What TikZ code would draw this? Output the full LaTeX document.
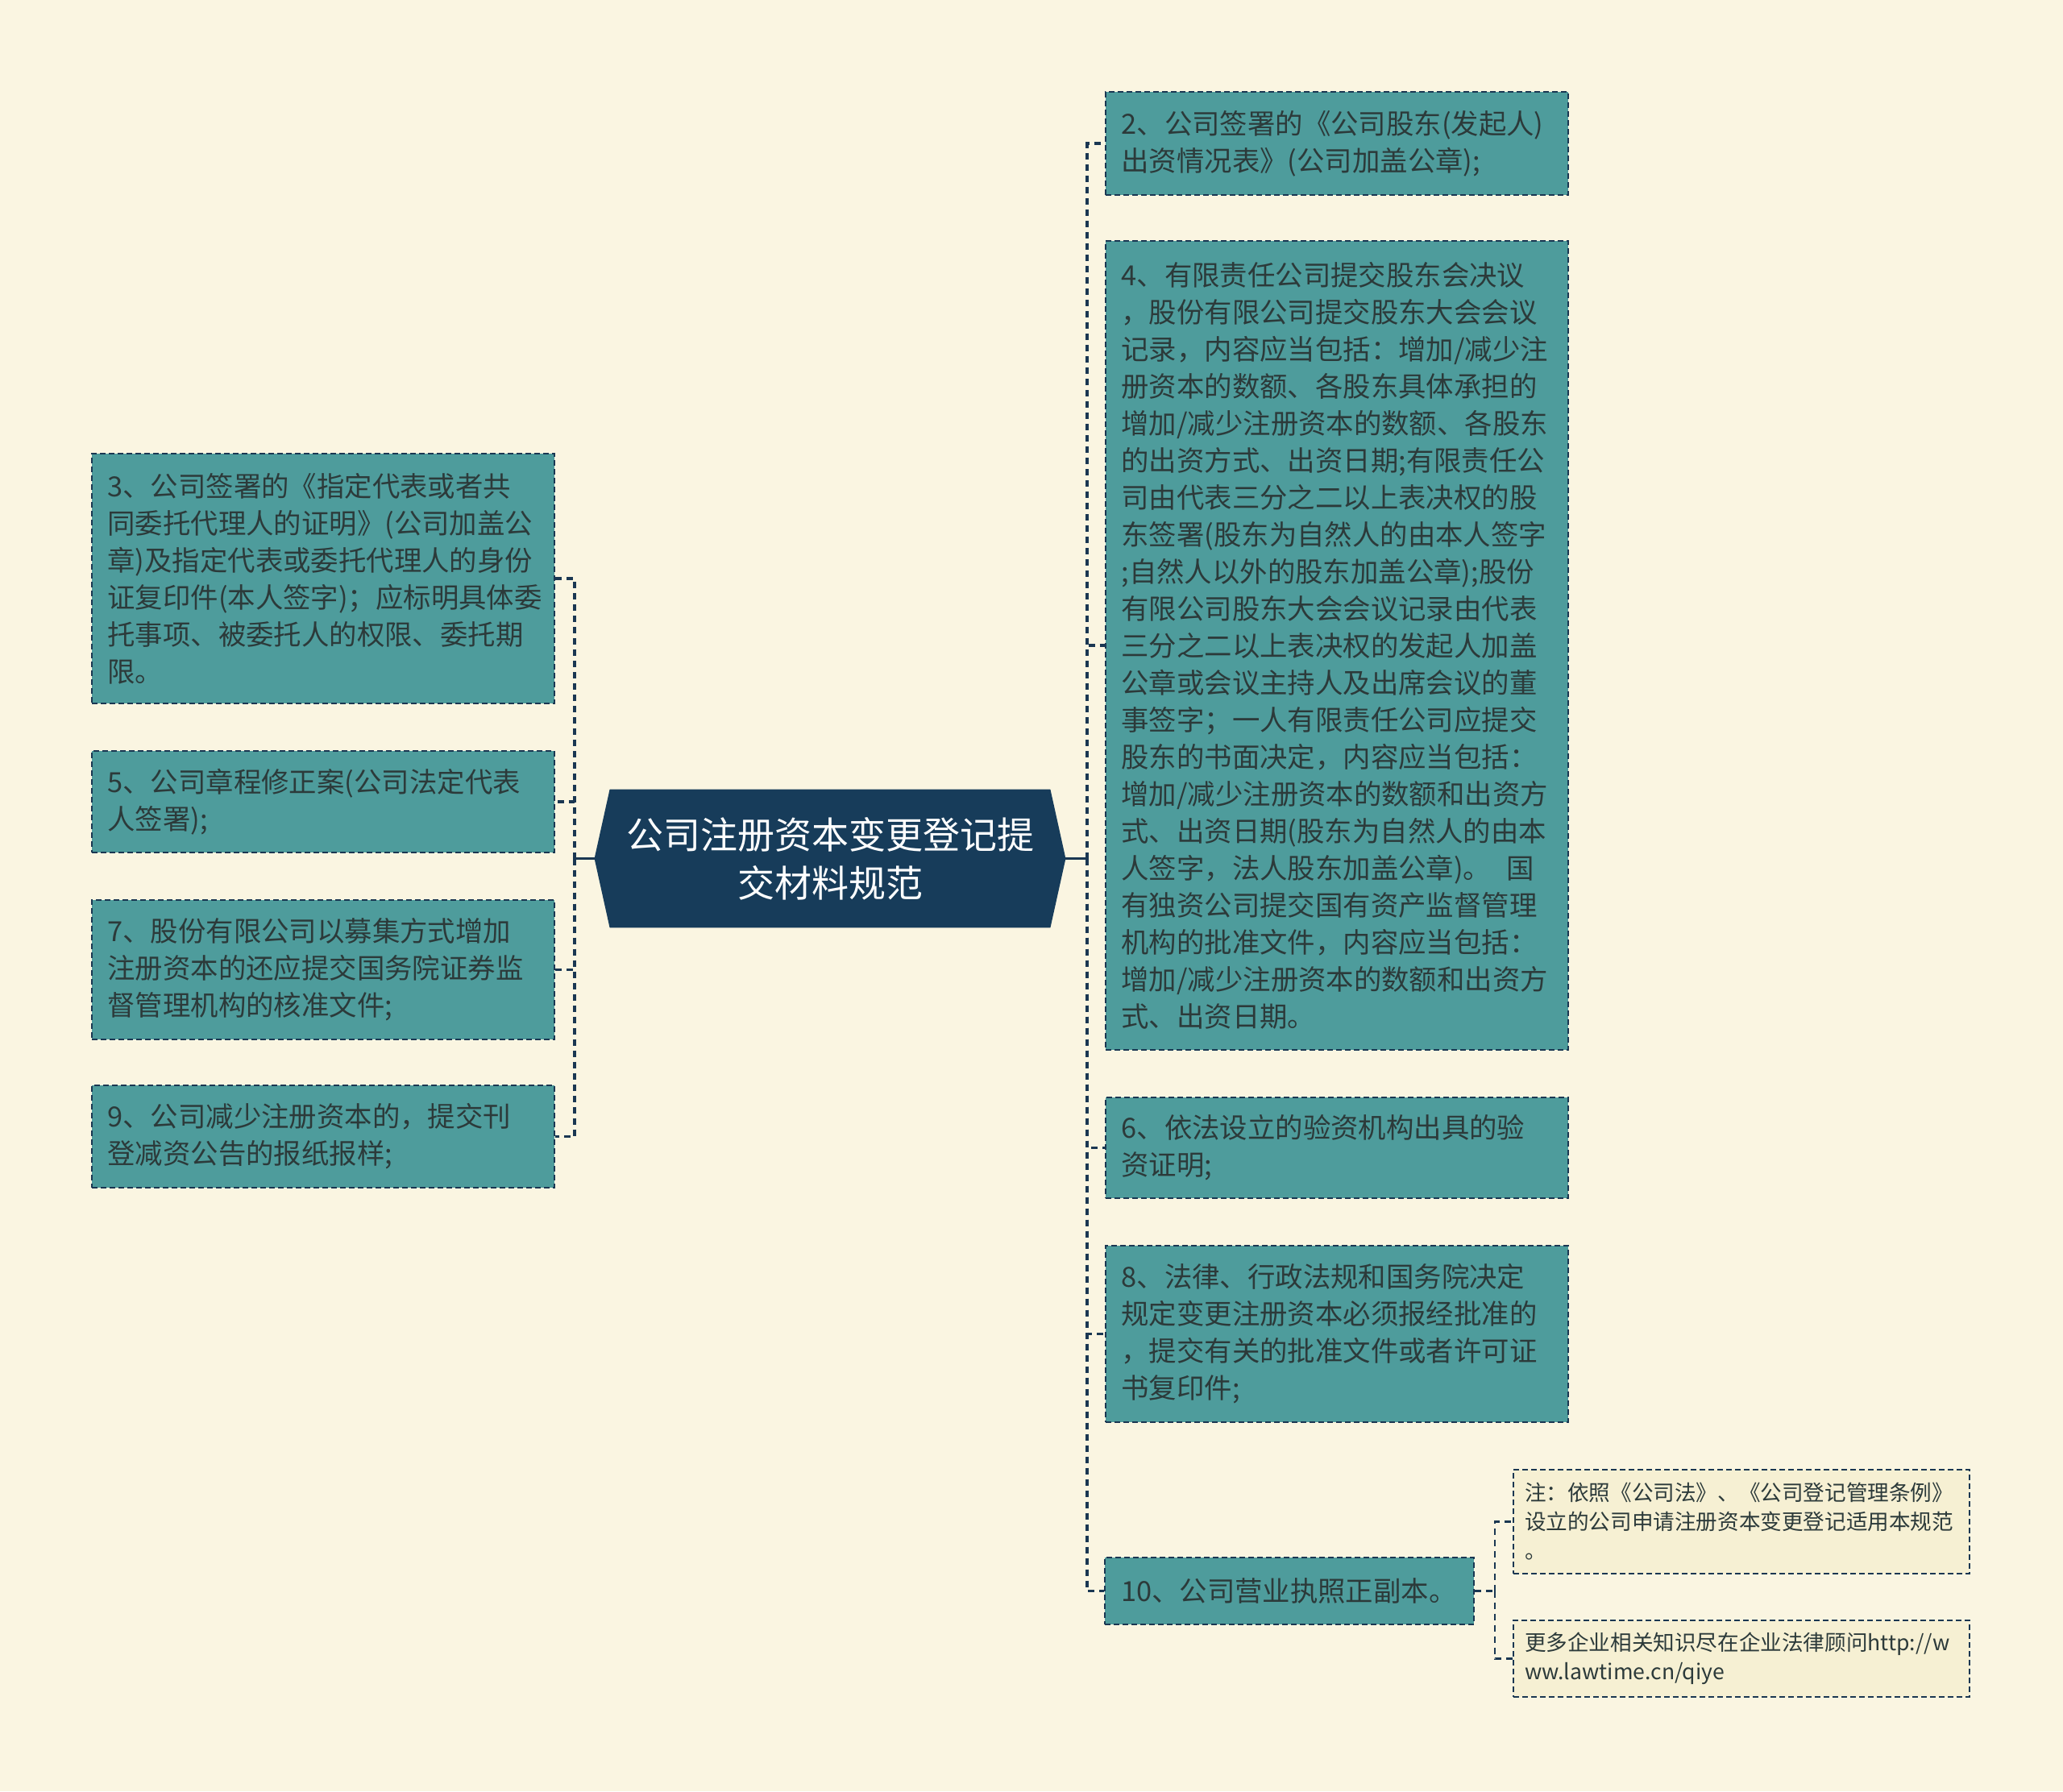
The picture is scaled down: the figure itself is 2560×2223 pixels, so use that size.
\documentclass[tikz,border=0pt]{standalone}
\usepackage{fontspec}
\newfontfamily\cjk{Noto Sans CJK SC}
\usetikzlibrary{positioning}
\pgfdeclarelayer{background}
\pgfsetlayers{background,main}
\definecolor{paper}{HTML}{FAF5E1}
\definecolor{tealbox}{HTML}{4E9C9C}
\definecolor{edge}{HTML}{1A3752}
\definecolor{ink}{HTML}{2C3A3A}
\definecolor{hubcol}{HTML}{173C5A}
\definecolor{notefill}{HTML}{F6F0D3}

\begin{document}
\begin{tikzpicture}[x=0.5pt,y=-0.5pt,
	box/.style={draw=edge,fill=tealbox,line width=1pt,dash pattern=on 3.5pt off 2pt,
		text=ink,font=\cjk\fontsize{17.2}{23}\selectfont,inner xsep=10pt,inner ysep=0pt,
		text width=267pt,align=left},
	note/.style={draw=edge,fill=notefill,line width=1pt,dash pattern=on 3.5pt off 2pt,
		text=ink,font=\cjk\fontsize{13.3}{18}\selectfont,inner xsep=7pt,inner ysep=0pt,
		text width=269pt,align=left},
	hub/.style={text=white,font=\cjk\fontsize{23}{30}\selectfont,align=center,
		minimum width=292pt,minimum height=85.5pt,inner sep=0pt},
	link/.style={draw=edge,line width=1.8pt,dash pattern=on 4pt off 3pt}]
	\useasboundingbox (0,0) rectangle (2560,2223);
	% centre
	\node[hub] (0) at (1030,1065.5) {公司注册资本变更登记提\\交材料规范};
	% right side
	\node[box,minimum height=64pt] (2) at (1658.5,178) {2、公司签署的《公司股东(发起人)\\出资情况表》(公司加盖公章);};
	\node[box,minimum height=502pt] (4) at (1658.5,801) {4、有限责任公司提交股东会决议\\，股份有限公司提交股东大会会议\\记录，内容应当包括：增加/减少注\\册资本的数额、各股东具体承担的\\增加/减少注册资本的数额、各股东\\的出资方式、出资日期;有限责任公\\司由代表三分之二以上表决权的股\\东签署(股东为自然人的由本人签字\\;自然人以外的股东加盖公章);股份\\有限公司股东大会会议记录由代表\\三分之二以上表决权的发起人加盖\\公章或会议主持人及出席会议的董\\事签字；一人有限责任公司应提交\\股东的书面决定，内容应当包括：\\增加/减少注册资本的数额和出资方\\式、出资日期(股东为自然人的由本\\人签字，法人股东加盖公章)。\hspace{0.55em}国\\有独资公司提交国有资产监督管理\\机构的批准文件，内容应当包括：\\增加/减少注册资本的数额和出资方\\式、出资日期。};
	\node[box,minimum height=62.5pt] (6) at (1658.5,1424.5) {6、依法设立的验资机构出具的验\\资证明;};
	\node[box,minimum height=109.5pt] (8) at (1658.5,1655.5) {8、法律、行政法规和国务院决定\\规定变更注册资本必须报经批准的\\，提交有关的批准文件或者许可证\\书复印件;};
	\node[box,minimum height=41.5pt,text width=209pt] (10) at (1600,1974.5) {10、公司营业执照正副本。};
	% left side
	\node[box,minimum height=155pt] (3) at (400.5,718) {3、公司签署的《指定代表或者共\\同委托代理人的证明》(公司加盖公\\章)及指定代表或委托代理人的身份\\证复印件(本人签字)；应标明具体委\\托事项、被委托人的权限、委托期\\限。};
	\node[box,minimum height=63pt] (5) at (400.5,995) {5、公司章程修正案(公司法定代表\\人签署);};
	\node[box,minimum height=86.5pt] (7) at (400.5,1203.5) {7、股份有限公司以募集方式增加\\注册资本的还应提交国务院证券监\\督管理机构的核准文件;};
	\node[box,minimum height=63.5pt] (9) at (400.5,1410.5) {9、公司减少注册资本的，提交刊\\登减资公告的报纸报样;};
	% notes
	\node[note,minimum height=64.5pt] (11) at (2161,1888.5) {注：依照《公司法》、《公司登记管理条例》\\设立的公司申请注册资本变更登记适用本规范\\。};
	\node[note,minimum height=47.5pt] (12) at (2161,2058.5) {更多企业相关知识尽在企业法律顾问http://w\\ww.lawtime.cn/qiye};
	\begin{pgfonlayer}{background}
		\fill[paper] (0,0) rectangle (2560,2223);
		\fill[hubcol] (0.west) -- ([xshift=9.5pt]0.north west) -- ([xshift=-9.5pt]0.north east)
			-- (0.east) -- ([xshift=-9.5pt]0.south east) -- ([xshift=9.5pt]0.south west) -- cycle;
	\end{pgfonlayer}
	\coordinate (rj) at (1349,1065.5);
	\coordinate (lj) at (713,1065.5);
	\coordinate (nj) at (1855,1974.5);
	\draw[link,solid,line width=1.5pt] (0.east) -- (rj);
	\foreach \n in {2,4,6,8,10}
		\draw[link] (rj) |- (\n.west);
	\draw[link,solid,line width=1.5pt] (0.west) -- (lj);
	\foreach \n in {3,5,7,9}
		\draw[link] (lj) |- (\n.east);
	\draw[link,line width=1.3pt] (10.east) -- (nj);
	\foreach \n in {11,12}
		\draw[link,line width=1.3pt] (nj) |- (\n.west);
\end{tikzpicture}
\end{document}
